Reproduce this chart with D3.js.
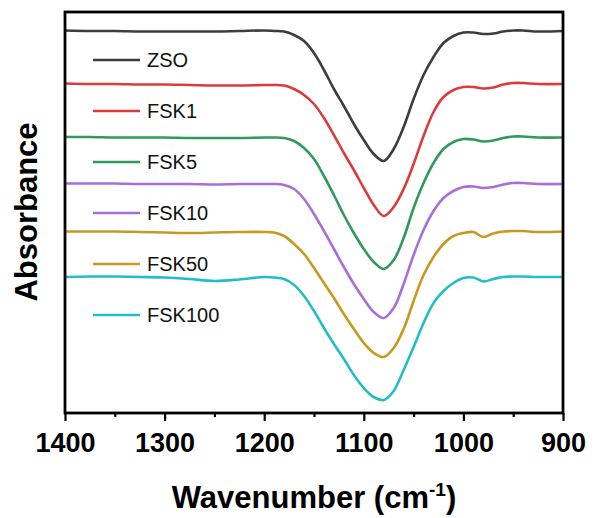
<!DOCTYPE html>
<html>
<head>
<meta charset="utf-8">
<script src="https://cdn.jsdelivr.net/npm/d3@7"></script>
<style>
  body { margin: 0; background: #fff; }
  svg { display: block; font-family: Arial, "Liberation Sans", sans-serif; }
</style>
</head>
<body>
<div id="chart"></div>
<script>
// wavenumber grid (cm-1)
const wavenumbers = [1400, 1375, 1350, 1325, 1300, 1275, 1250, 1225, 1200, 1190, 1180, 1170, 1160, 1150, 1140, 1130, 1120, 1110, 1100, 1090, 1080, 1070, 1060, 1050, 1040, 1030, 1020, 1010, 1000, 990, 980, 970, 960, 950, 940, 925, 900];

// absorbance (a.u., stacked)
const zso = [3.825, 3.82, 3.82, 3.815, 3.815, 3.815, 3.815, 3.82, 3.825, 3.82, 3.815, 3.78, 3.72, 3.60, 3.43, 3.24, 3.07, 2.89, 2.73, 2.59, 2.52, 2.64, 2.86, 3.14, 3.38, 3.56, 3.70, 3.77, 3.805, 3.805, 3.79, 3.795, 3.815, 3.825, 3.825, 3.815, 3.82];
const fsk1 = [3.295, 3.29, 3.29, 3.285, 3.285, 3.28, 3.275, 3.275, 3.28, 3.28, 3.275, 3.24, 3.18, 3.09, 2.95, 2.78, 2.60, 2.43, 2.25, 2.08, 1.97, 2.06, 2.24, 2.49, 2.77, 3.01, 3.16, 3.23, 3.26, 3.26, 3.245, 3.255, 3.285, 3.30, 3.30, 3.29, 3.29];
const fsk5 = [2.76, 2.76, 2.755, 2.755, 2.755, 2.75, 2.75, 2.75, 2.755, 2.755, 2.75, 2.72, 2.65, 2.54, 2.37, 2.18, 1.98, 1.80, 1.64, 1.51, 1.44, 1.53, 1.75, 2.05, 2.30, 2.50, 2.64, 2.71, 2.74, 2.735, 2.715, 2.725, 2.75, 2.765, 2.765, 2.755, 2.755];
const fsk10 = [2.295, 2.295, 2.295, 2.29, 2.29, 2.29, 2.285, 2.29, 2.29, 2.29, 2.28, 2.24, 2.14, 1.99, 1.82, 1.64, 1.46, 1.29, 1.14, 1.01, 0.95, 1.05, 1.29, 1.58, 1.83, 2.02, 2.15, 2.22, 2.26, 2.265, 2.25, 2.26, 2.285, 2.30, 2.30, 2.29, 2.29];
const fsk50 = [1.815, 1.815, 1.815, 1.81, 1.805, 1.80, 1.805, 1.81, 1.81, 1.805, 1.77, 1.69, 1.59, 1.45, 1.30, 1.15, 0.99, 0.84, 0.70, 0.60, 0.56, 0.65, 0.84, 1.12, 1.38, 1.56, 1.69, 1.77, 1.80, 1.81, 1.76, 1.795, 1.815, 1.82, 1.82, 1.81, 1.815];
const fsk100 = [1.36, 1.365, 1.365, 1.36, 1.355, 1.34, 1.32, 1.335, 1.36, 1.355, 1.34, 1.28, 1.17, 1.02, 0.85, 0.69, 0.54, 0.38, 0.25, 0.16, 0.13, 0.22, 0.43, 0.66, 0.90, 1.10, 1.22, 1.30, 1.35, 1.355, 1.315, 1.34, 1.36, 1.365, 1.365, 1.36, 1.36];

const seriesNames = ["ZSO", "FSK1", "FSK5", "FSK10", "FSK50", "FSK100"];
const seriesValues = [zso, fsk1, fsk5, fsk10, fsk50, fsk100];
const seriesColors = ["#3d3d3d", "#dc3b3b", "#2f9a5c", "#a86fdc", "#c79a1f", "#22bec7"];

const majorTicks = [1400, 1300, 1200, 1100, 1000, 900];
const minorTicks = [1350, 1250, 1150, 1050, 950];

const width = 594, height = 518;
const margin = {top: 12, right: 31, bottom: 105, left: 65};
const innerW = width - margin.left - margin.right;
const innerH = height - margin.top - margin.bottom;

const svg = d3.select("#chart").append("svg")
  .attr("width", width)
  .attr("height", height);

const g = svg.append("g").attr("transform", `translate(${margin.left},${margin.top})`);

const x = d3.scaleLinear().domain([1400, 900]).range([0, innerW]);
const y = d3.scaleLinear().domain([0, 4.01]).range([innerH, 0]);

const line = d3.line()
  .x(d => x(d[0]))
  .y(d => y(d[1]))
  .curve(d3.curveCatmullRom.alpha(0.5));

seriesValues.forEach((vals, i) => {
  let pts = wavenumbers.map((w, k) => [w, vals[k]]);
  g.append("path")
    .datum(pts)
    .attr("fill", "none")
    .attr("stroke", seriesColors[i])
    .attr("stroke-width", 2.6)
    .attr("stroke-linejoin", "round")
    .attr("d", line);
});

// legend
const legend = g.append("g").attr("transform", "translate(28,48)");
seriesNames.forEach((name, i) => {
  let row = legend.append("g").attr("transform", `translate(0,${i * 51})`);
  row.append("line")
    .attr("x1", 0).attr("x2", 47)
    .attr("stroke", seriesColors[i])
    .attr("stroke-width", 2.6);
  row.append("text")
    .attr("x", 54).attr("y", 7)
    .attr("font-size", 20)
    .attr("fill", "#111")
    .text(name);
});

// x axis, major + minor ticks
const xAxis = g.append("g")
  .attr("transform", `translate(0,${innerH})`)
  .call(d3.axisBottom(x).tickValues(majorTicks).tickSize(8).tickPadding(12).tickFormat(d3.format("d")));
xAxis.select(".domain").remove();
xAxis.selectAll(".tick line").attr("stroke", "#000").attr("stroke-width", 2.2);
xAxis.selectAll(".tick text")
  .attr("font-size", 27)
  .attr("font-weight", "bold")
  .attr("fill", "#000");

const xMinor = g.append("g")
  .attr("transform", `translate(0,${innerH})`)
  .call(d3.axisBottom(x).tickValues(minorTicks).tickSize(4).tickFormat(""));
xMinor.select(".domain").remove();
xMinor.selectAll(".tick line").attr("stroke", "#000").attr("stroke-width", 2.2);

// frame
g.append("rect")
  .attr("width", innerW)
  .attr("height", innerH)
  .attr("fill", "none")
  .attr("stroke", "#000")
  .attr("stroke-width", 2.8);

// axis titles
const xTitle = svg.append("text")
  .attr("x", margin.left + innerW / 2)
  .attr("y", 508)
  .attr("text-anchor", "middle")
  .attr("font-size", 31)
  .attr("font-weight", "bold")
  .attr("fill", "#000");
xTitle.append("tspan").text("Wavenumber (cm");
xTitle.append("tspan").attr("font-size", 19).attr("dy", -12).text("-1");
xTitle.append("tspan").attr("dy", 12).text(")");

svg.append("text")
  .attr("transform", `translate(37,${margin.top + 200}) rotate(-90)`)
  .attr("text-anchor", "middle")
  .attr("font-size", 31)
  .attr("font-weight", "bold")
  .attr("fill", "#000")
  .text("Absorbance");
</script>
</body>
</html>
